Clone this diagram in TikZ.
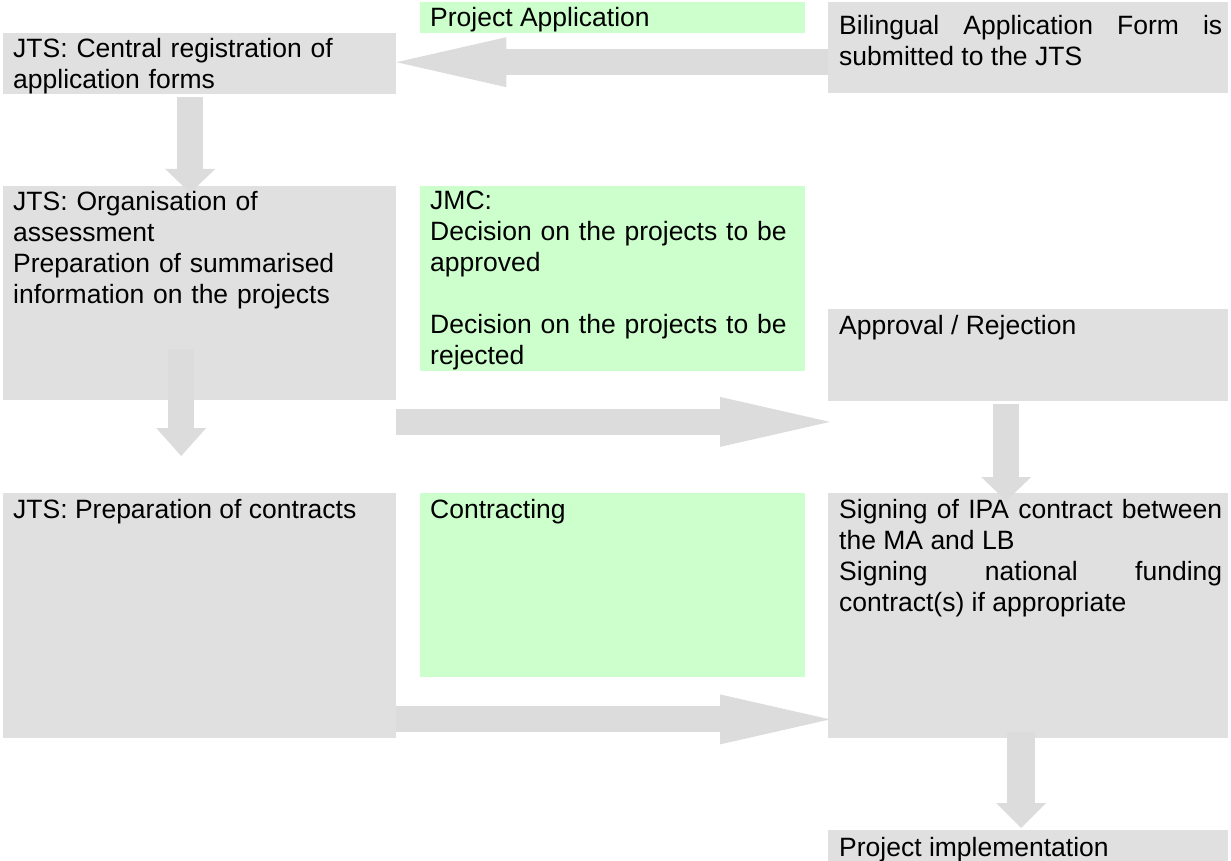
\documentclass[tikz,border=0pt]{standalone}
\usepackage{fontspec}
\setmainfont{Liberation Sans}
\usetikzlibrary{arrows.meta}
\definecolor{boxgray}{HTML}{E0E0E0}
\definecolor{arrowgray}{HTML}{DCDCDC}
\definecolor{boxgreen}{HTML}{CCFFCC}
\hyphenpenalty=10000
\tolerance=9999
\begin{document}
\begin{tikzpicture}[x=1pt,y=-1pt,
    graybox/.style={fill=boxgray,inner sep=0pt,anchor=north west},
    greenbox/.style={fill=boxgreen,inner sep=0pt,anchor=north west},
    boxtext/.style={anchor=north west,inner sep=0pt,align=left,font=\fontsize{26.5}{31}\selectfont},
    bigflow/.style={draw=arrowgray,line width=26pt,-{Triangle[length=#1,width=50pt,line width=0pt]}}]
  \useasboundingbox (0,0) rectangle (1231,861);
  % first row
  \node[greenbox,minimum width=385pt,minimum height=31pt] (papp) at (420,2) {};
  \node[graybox,minimum width=400pt,minimum height=91pt] (bil) at (828,2) {};
  \node[graybox,minimum width=393pt,minimum height=61pt] (reg) at (3,33) {};
  % second row
  \node[graybox,minimum width=393pt,minimum height=214pt] (org) at (3,186) {};
  \node[greenbox,minimum width=385pt,minimum height=185pt] (jmc) at (420,186) {};
  \node[graybox,minimum width=400pt,minimum height=92pt] (appr) at (828,309) {};
  % third row
  \node[graybox,minimum width=393pt,minimum height=245pt] (prep) at (3,493) {};
  \node[greenbox,minimum width=385pt,minimum height=184pt] (contr) at (420,493) {};
  \node[graybox,minimum width=400pt,minimum height=245pt] (sign) at (828,493) {};
  \node[graybox,minimum width=400pt,minimum height=31pt] (impl) at (828,830) {};
  % flows
  \draw[bigflow=110pt] ([yshift=-14.5pt]bil.west) -- ([yshift=1.5pt]reg.east);
  \draw[bigflow=24pt] ([xshift=-9.5pt,yshift=-3pt]reg.south) -- ([xshift=-9.5pt,yshift=-7pt]org.north);
  \draw[bigflow=28pt] ([xshift=-18.5pt,yshift=51pt]org.south) -- ([xshift=-18.5pt,yshift=37pt]prep.north);
  \draw[bigflow=110pt] ([yshift=-21.5pt]org.south east) -- ([xshift=2pt,yshift=-20.5pt]appr.south west);
  \draw[bigflow=24pt] ([xshift=-22pt,yshift=-3pt]appr.south) -- ([xshift=-22pt,yshift=-8pt]sign.north);
  \draw[bigflow=110pt] ([yshift=19pt]prep.south east) -- ([xshift=2pt,yshift=19pt]sign.south west);
  \draw[bigflow=25pt,line width=28pt] ([xshift=-7pt,yshift=6pt]sign.south) -- ([xshift=-7pt,yshift=2pt]impl.north);
  % texts
  \node[boxtext] (papptxt) at ([shift={(10,5)}]papp.north west) {Project Application};
  \node[boxtext,text width=383pt,align=justify] (biltxt) at ([shift={(11,13)}]bil.north west)
    {Bilingual Application Form is submitted to the JTS};
  \node[boxtext,text width=377pt] (regtxt) at ([shift={(10,5)}]reg.north west)
    {JTS: Central registration of\\application forms};
  \node[boxtext,text width=377pt] (orgtxt) at ([shift={(10,5)}]org.north west)
    {JTS: Organisation of\\assessment\\Preparation of summarised\\information on the projects};
  \node[boxtext,text width=365pt] (jmctxt) at ([shift={(10,5)}]jmc.north west)
    {JMC:\\Decision on the projects to be\\approved\\[31pt]Decision on the projects to be\\rejected};
  \node[boxtext] (apprtxt) at ([shift={(11,6)}]appr.north west) {Approval / Rejection};
  \node[boxtext] (preptxt) at ([shift={(10,6)}]prep.north west) {JTS: Preparation of contracts};
  \node[boxtext] (contrtxt) at ([shift={(10,6)}]contr.north west) {Contracting};
  \node[boxtext,text width=383pt,align=justify] (signtxt) at ([shift={(11,6)}]sign.north west)
    {Signing of IPA contract between the MA and LB\\Signing national funding contract(s) if appropriate};
  \node[boxtext] (impltxt) at ([shift={(11,7)}]impl.north west) {Project implementation};
\end{tikzpicture}
\end{document}
